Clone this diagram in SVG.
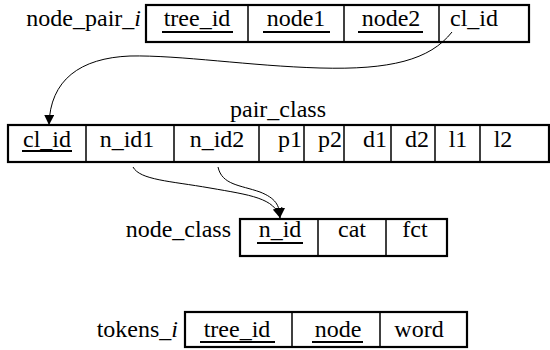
<svg xmlns="http://www.w3.org/2000/svg" width="550" height="350" viewBox="0 0 550 350" font-family="Liberation Serif, DejaVu Serif, serif" font-size="24">
<style>
.c{text-anchor:middle}
.l{text-anchor:end}
.box{fill:#fff;stroke:#000;stroke-width:2.2}
.div{stroke:#000;stroke-width:1.5}
.ul{stroke:#000;stroke-width:1.8}
.conn{fill:none;stroke:#000;stroke-width:1}
</style>
<defs>
<marker id="ah" viewBox="0 0 10 10" refX="10" refY="5" markerWidth="10" markerHeight="10" markerUnits="userSpaceOnUse" orient="auto">
<path d="M0,0 L10,5 L0,10 Z" fill="#000"/>
</marker>
</defs>
<g id="node_pair_i">
<text class="l" x="141" y="26">node_pair_<tspan font-style="italic">i</tspan></text>
<rect class="box" x="146" y="5" width="383" height="37"/>
<line class="div" x1="248" y1="5" x2="248" y2="42"/>
<line class="div" x1="344" y1="5" x2="344" y2="42"/>
<line class="div" x1="439" y1="5" x2="439" y2="42"/>
<text class="c" x="197" y="26">tree_id</text>
<text class="c" x="296" y="26">node1</text>
<text class="c" x="391" y="26">node2</text>
<text class="c" x="474" y="26">cl_id</text>
<line class="ul" x1="162" y1="32" x2="233" y2="32"/>
<line class="ul" x1="263" y1="32" x2="330" y2="32"/>
<line class="ul" x1="358" y1="32" x2="423" y2="32"/>
</g>
<g id="pair_class">
<text class="c" x="278" y="117">pair_class</text>
<rect class="box" x="8" y="125" width="541" height="37"/>
<line class="div" x1="86" y1="125" x2="86" y2="162"/>
<line class="div" x1="174" y1="125" x2="174" y2="162"/>
<line class="div" x1="259" y1="125" x2="259" y2="162"/>
<line class="div" x1="304" y1="125" x2="304" y2="162"/>
<line class="div" x1="344" y1="125" x2="344" y2="162"/>
<line class="div" x1="391" y1="125" x2="391" y2="162"/>
<line class="div" x1="435" y1="125" x2="435" y2="162"/>
<line class="div" x1="480" y1="125" x2="480" y2="162"/>
<text class="c" x="47" y="147">cl_id</text>
<text class="c" x="127" y="147">n_id1</text>
<text class="c" x="217" y="147">n_id2</text>
<text class="c" x="290" y="147">p1</text>
<text class="c" x="330" y="147">p2</text>
<text class="c" x="375" y="147">d1</text>
<text class="c" x="417" y="147">d2</text>
<text class="c" x="458" y="147">l1</text>
<text class="c" x="503" y="147">l2</text>
<line class="ul" x1="22" y1="151" x2="72" y2="151"/>
</g>
<g id="node_class">
<text class="l" x="231" y="237">node_class</text>
<rect class="box" x="240" y="219" width="207" height="37"/>
<line class="div" x1="318" y1="219" x2="318" y2="256"/>
<line class="div" x1="386" y1="219" x2="386" y2="256"/>
<text class="c" x="280" y="237">n_id</text>
<text class="c" x="352" y="237">cat</text>
<text class="c" x="415" y="237">fct</text>
<line class="ul" x1="257" y1="243" x2="303" y2="243"/>
</g>
<g id="tokens_i">
<text class="l" x="178" y="337">tokens_<tspan font-style="italic">i</tspan></text>
<rect class="box" x="185" y="312" width="282" height="35"/>
<line class="div" x1="292" y1="312" x2="292" y2="347"/>
<line class="div" x1="380" y1="312" x2="380" y2="347"/>
<text class="c" x="237" y="337">tree_id</text>
<text class="c" x="338" y="337">node</text>
<text class="c" x="419" y="337">word</text>
<line class="ul" x1="200" y1="342" x2="275" y2="342"/>
<line class="ul" x1="312" y1="342" x2="363" y2="342"/>
</g>
<g id="connectors">
<path class="conn" marker-end="url(#ah)" d="M452,32 C430,60 390,70 320,68 C250,66 180,55 130,56 C80,58 50,80 49,125"/>
<path class="conn" marker-end="url(#ah)" d="M133,167 C140,180 170,181 210,188 C250,195 275,198 280,218"/>
<path class="conn" marker-end="url(#ah)" d="M218,167 C222,185 240,185 260,192 C275,198 280,205 280,218"/>
</g>
</svg>
